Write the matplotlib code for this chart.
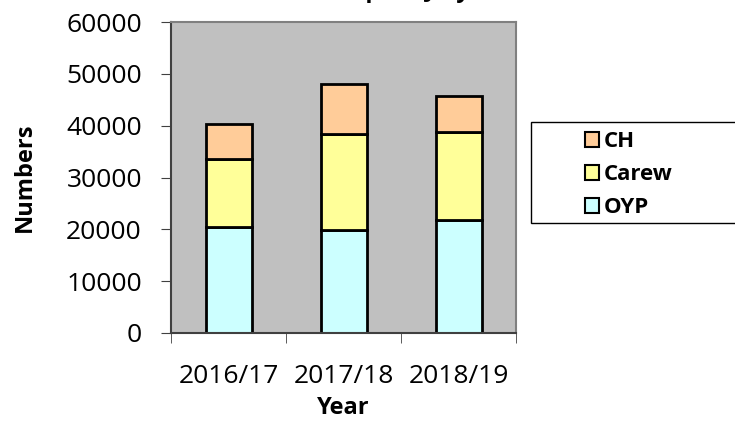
import matplotlib.pyplot as plt
from matplotlib.patches import Rectangle, Patch
import numpy as np

years = ["2016/17", "2017/18", "2018/19"]
oyp = [20400, 19900, 21800]
carew = [13200, 18500, 16900]
ch = [6700, 9700, 7100]

plt.rcParams['font.family'] = ['Open Sans', 'DejaVu Sans']

fig = plt.figure(figsize=(7.35, 4.25), dpi=100)
ax = fig.add_axes([171/735, 1 - 333/425, (516 - 171)/735, (333 - 22)/425])
ax.set_facecolor("#C0C0C0")

x = np.arange(len(years))
bottom2 = np.array(oyp) + np.array(carew)
ax.bar(x, oyp, width=0.4, color="#CCFFFF", edgecolor="black", linewidth=2)
ax.bar(x, carew, width=0.4, bottom=oyp, color="#FFFF99", edgecolor="black", linewidth=2)
ax.bar(x, ch, width=0.4, bottom=bottom2, color="#FFCC99", edgecolor="black", linewidth=2)

ax.set_xlim(-0.5, 2.5)
ax.set_ylim(0, 60000)
ax.set_yticks(range(0, 60001, 10000))
ax.tick_params(axis='y', labelsize=19, length=7, color="#404040", pad=14)
ax.set_xticks(x)
ax.set_xticklabels(years, fontsize=19)
ax.tick_params(axis='x', length=0, pad=22)
ax.set_xticks([-0.5, 0.5, 1.5, 2.5], minor=True)
ax.tick_params(axis='x', which='minor', length=7, color="#404040")
for s in ax.spines.values():
    s.set_color("#808080")
    s.set_linewidth(1.5)
ax.spines['left'].set_color("#404040")
ax.spines['bottom'].set_color("#404040")

ax.set_xlabel("Year", fontsize=17, fontweight='bold', labelpad=5)
ax.set_ylabel("Numbers", fontsize=17, fontweight='bold', labelpad=21)

# title mostly cut off at the top of the image, as in the original
fig.text(478/735, 1 + 3/425, "Visitor Numbers (April - July)", ha='right',
         va='baseline', fontsize=17, fontweight='bold')

fig.patches.append(Rectangle((531/735, 1 - 223/425), 210/735, 101/425,
                             transform=fig.transFigure, facecolor="white",
                             edgecolor="black", linewidth=1))
handles = [Patch(facecolor=c, edgecolor="black", linewidth=1.5)
           for c in ["#FFCC99", "#FFFF99", "#CCFFFF"]]
fig.legend(handles, ["CH", "Carew", "OYP"], loc='upper left',
           bbox_to_anchor=(565/735, 1 - 111/425), frameon=False,
           prop={'size': 16, 'weight': 'bold'}, handlelength=0.65,
           handleheight=0.65, handletextpad=0.2, labelspacing=0.55)

fig.savefig("out.png", dpi=100)
